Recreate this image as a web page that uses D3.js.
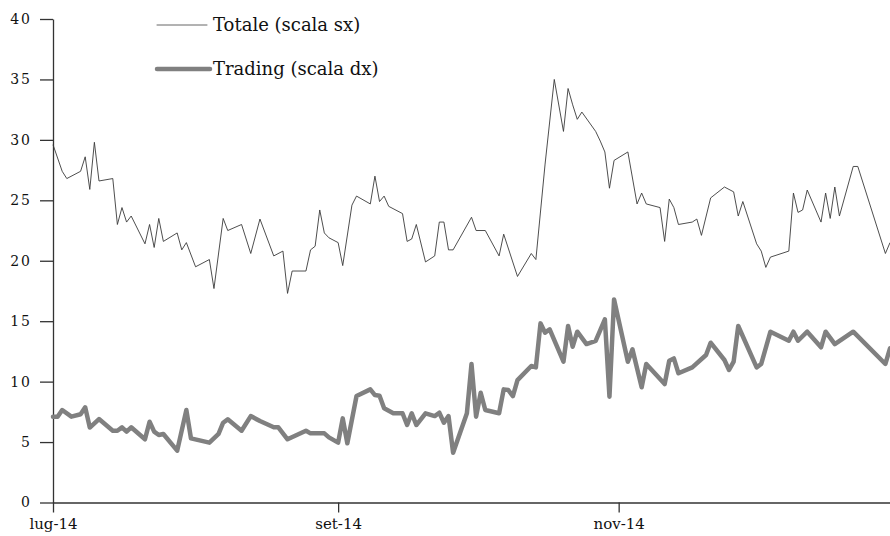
<!DOCTYPE html>
<html>
<head>
<meta charset="utf-8">
<script src="https://cdn.jsdelivr.net/npm/d3@7"></script>
<style>
  body { margin: 0; background: #fff; }
  svg { display: block; }
  text { font-family: "DejaVu Serif", serif; fill: #111; }
</style>
</head>
<body>
<svg id="drawing_region"></svg>
<script>
// Totale (scala sx)
const totaleDates = [
  "2014-07-01","2014-07-03","2014-07-04","2014-07-07","2014-07-08","2014-07-09","2014-07-10","2014-07-11",
  "2014-07-14","2014-07-15","2014-07-16","2014-07-17","2014-07-18","2014-07-21","2014-07-22","2014-07-23",
  "2014-07-24","2014-07-25","2014-07-28","2014-07-29","2014-07-30","2014-08-01","2014-08-04","2014-08-05",
  "2014-08-07","2014-08-08","2014-08-11","2014-08-13","2014-08-15","2014-08-18","2014-08-20","2014-08-21",
  "2014-08-22","2014-08-25","2014-08-26","2014-08-27","2014-08-28","2014-08-29","2014-08-30","2014-09-01",
  "2014-09-02","2014-09-04","2014-09-05","2014-09-08","2014-09-09","2014-09-10","2014-09-11","2014-09-12",
  "2014-09-15","2014-09-16","2014-09-17","2014-09-18","2014-09-20","2014-09-22","2014-09-23","2014-09-24",
  "2014-09-25","2014-09-26","2014-09-30","2014-10-01","2014-10-03","2014-10-06","2014-10-07","2014-10-10",
  "2014-10-13","2014-10-14","2014-10-16","2014-10-18","2014-10-20","2014-10-21","2014-10-22","2014-10-23",
  "2014-10-24","2014-10-27","2014-10-28","2014-10-29","2014-10-30","2014-10-31","2014-11-03","2014-11-05",
  "2014-11-06","2014-11-07","2014-11-10","2014-11-11","2014-11-12","2014-11-13","2014-11-14","2014-11-17",
  "2014-11-18","2014-11-19","2014-11-21","2014-11-24","2014-11-26","2014-11-27","2014-11-28","2014-12-01",
  "2014-12-02","2014-12-03","2014-12-04","2014-12-08","2014-12-09","2014-12-10","2014-12-11","2014-12-12",
  "2014-12-15","2014-12-16","2014-12-17","2014-12-18","2014-12-19","2014-12-22","2014-12-23","2014-12-29",
  "2014-12-30"
];
const totaleValues = [
  29.6, 27.4, 26.8, 27.4, 28.6, 25.9, 29.8, 26.6,
  26.8, 23.0, 24.4, 23.2, 23.7, 21.4, 23.0, 21.1,
  23.5, 21.6, 22.3, 20.9, 21.5, 19.5, 20.1, 17.7,
  23.5, 22.5, 23.0, 20.6, 23.45, 20.4, 20.8, 17.3,
  19.15, 19.15, 20.9, 21.2, 24.2, 22.3, 21.9, 21.5,
  19.6, 24.6, 25.35, 24.7, 27.0, 24.9, 25.35, 24.5,
  23.9, 21.6, 21.8, 23.0, 19.9, 20.4, 23.2, 23.2,
  20.9, 20.9, 23.6, 22.5, 22.5, 20.4, 22.2, 18.7,
  20.6, 20.1, 28.0, 35.0, 30.7, 34.25, 32.9, 31.7,
  32.3, 30.7, 29.9, 29.0, 26.0, 28.3, 29.0, 24.7,
  25.6, 24.7, 24.4, 21.6, 25.1, 24.4, 23.0, 23.2,
  23.45, 22.1, 25.2, 26.1, 25.7, 23.7, 24.9, 21.4,
  20.8, 19.45, 20.3, 20.8, 25.6, 24.0, 24.2, 25.85,
  23.2, 25.6, 23.5, 26.1, 23.7, 27.8, 27.8, 20.6,
  21.5
];

// Trading (scala dx)
const tradingDates = [
  "2014-07-01","2014-07-02","2014-07-03","2014-07-05","2014-07-07","2014-07-08","2014-07-09","2014-07-11",
  "2014-07-14","2014-07-15","2014-07-16","2014-07-17","2014-07-18","2014-07-21","2014-07-22","2014-07-23",
  "2014-07-24","2014-07-25","2014-07-28","2014-07-30","2014-07-31","2014-08-04","2014-08-06","2014-08-07",
  "2014-08-08","2014-08-11","2014-08-13","2014-08-15","2014-08-18","2014-08-19","2014-08-21","2014-08-25",
  "2014-08-26","2014-08-29","2014-08-30","2014-09-01","2014-09-02","2014-09-03","2014-09-05","2014-09-08",
  "2014-09-09","2014-09-10","2014-09-11","2014-09-13","2014-09-15","2014-09-16","2014-09-17","2014-09-18",
  "2014-09-20","2014-09-22","2014-09-23","2014-09-24","2014-09-25","2014-09-26","2014-09-29","2014-09-30",
  "2014-10-01","2014-10-02","2014-10-03","2014-10-06","2014-10-07","2014-10-08","2014-10-09","2014-10-10",
  "2014-10-13","2014-10-14","2014-10-15","2014-10-16","2014-10-17","2014-10-20","2014-10-21","2014-10-22",
  "2014-10-23","2014-10-25","2014-10-27","2014-10-29","2014-10-30","2014-10-31","2014-11-03","2014-11-04",
  "2014-11-06","2014-11-07","2014-11-11","2014-11-12","2014-11-13","2014-11-14","2014-11-17","2014-11-20",
  "2014-11-21","2014-11-24","2014-11-25","2014-11-26","2014-11-27","2014-12-01","2014-12-02","2014-12-04",
  "2014-12-08","2014-12-09","2014-12-10","2014-12-12","2014-12-15","2014-12-16","2014-12-18","2014-12-22",
  "2014-12-29","2014-12-30"
];
const tradingValues = [
  7.1, 7.1, 7.65, 7.1, 7.3, 7.87, 6.2, 6.9,
  5.94, 5.94, 6.22, 5.86, 6.22, 5.23, 6.68, 5.86,
  5.58, 5.67, 4.29, 7.65, 5.31, 4.95, 5.67, 6.6,
  6.88, 5.94, 7.15, 6.74, 6.22, 6.22, 5.23, 5.94,
  5.72, 5.72, 5.39, 4.95, 6.96, 4.9, 8.81, 9.36,
  8.89, 8.83, 7.79, 7.38, 7.38, 6.41, 7.38, 6.41,
  7.38, 7.15, 7.43, 6.6, 7.15, 4.12, 7.38, 11.46,
  7.1, 9.08, 7.65, 7.38, 9.36, 9.3, 8.81, 10.13,
  11.29, 11.18, 14.82, 14.05, 14.33, 11.65, 14.6, 12.89,
  14.13, 13.11, 13.38, 15.15, 8.75, 16.8, 11.65, 12.67,
  9.53, 11.46, 9.8, 11.73, 11.92, 10.69, 11.18, 12.2,
  13.22, 11.79, 10.96, 11.65, 14.6, 11.18, 11.46, 14.13,
  13.38, 14.13, 13.38, 14.13, 12.84, 14.13, 13.11, 14.13,
  11.46, 12.75
];

const yTicks = [0, 5, 10, 15, 20, 25, 30, 35, 40];
const xTickDates = ["2014-07-01", "2014-09-01", "2014-11-01"];
const xTickLabels = ["lug-14", "set-14", "nov-14"];
const xDomain = ["2014-07-01", "2014-12-30"];
const seriesNames = ["Totale (scala sx)", "Trading (scala dx)"];

const config = {
  width: 890,
  height: 536,
  margin: { top: 19, right: 0, bottom: 33.5, left: 53 },
};

const parse = d3.timeParse("%Y-%m-%d");

const svg = d3.select("#drawing_region")
  .attr("width", config.width)
  .attr("height", config.height);

const innerW = config.width - config.margin.left - config.margin.right;
const innerH = config.height - config.margin.top - config.margin.bottom;

const chart = svg.append("g")
  .attr("transform", `translate(${config.margin.left}, ${config.margin.top})`);

const xscale = d3.scaleTime().domain(xDomain.map(parse)).range([0, innerW]);
const yscale = d3.scaleLinear().domain([0, 40]).range([innerH, 0]);

// y axis
const yaxis = d3.axisLeft(yscale)
  .tickValues(yTicks)
  .tickSize(13)
  .tickSizeOuter(0)
  .tickPadding(8);
const yg = chart.append("g").call(yaxis);
yg.selectAll("path, line").attr("stroke", "#333").attr("stroke-width", 1.3);
yg.selectAll("text")
  .attr("font-family", "DejaVu Serif")
  .attr("font-size", "14px")
  .attr("letter-spacing", "2px")
  .attr("fill", "#000");

// x axis
const xaxis = d3.axisBottom(xscale)
  .tickValues(xTickDates.map(parse))
  .tickFormat((d, i) => xTickLabels[i])
  .tickSize(10)
  .tickSizeOuter(0)
  .tickPadding(6);
const xg = chart.append("g")
  .attr("transform", `translate(0, ${innerH})`)
  .call(xaxis);
xg.selectAll("path, line").attr("stroke", "#333").attr("stroke-width", 1.3);
xg.selectAll("text")
  .attr("font-family", "DejaVu Serif")
  .attr("font-size", "15px")
  .attr("fill", "#000");

// lines
const line = d3.line()
  .x((d) => xscale(d.date))
  .y((d) => yscale(d.value));

const totale = totaleDates.map((d, i) => ({ date: parse(d), value: totaleValues[i] }));
const trading = tradingDates.map((d, i) => ({ date: parse(d), value: tradingValues[i] }));

chart.append("path")
  .datum(trading)
  .attr("fill", "none")
  .attr("stroke", "#808080")
  .attr("stroke-width", 4.5)
  .attr("stroke-linejoin", "round")
  .attr("stroke-linecap", "round")
  .attr("d", line);

chart.append("path")
  .datum(totale)
  .attr("fill", "none")
  .attr("stroke", "#3a3a3a")
  .attr("stroke-width", 0.9)
  .attr("d", line);

// legend
const legend = svg.append("g");
const legendItems = [
  { name: seriesNames[0], stroke: "#666", width: 1, y: 25, x2: 207 },
  { name: seriesNames[1], stroke: "#808080", width: 4.5, y: 69, x2: 210 },
];
legendItems.forEach((d) => {
  legend.append("line")
    .attr("x1", 157).attr("x2", d.x2)
    .attr("y1", d.y).attr("y2", d.y)
    .attr("stroke", d.stroke)
    .attr("stroke-width", d.width)
    .attr("stroke-linecap", "round");
  legend.append("text")
    .attr("x", 213)
    .attr("y", d.y + 6)
    .attr("font-size", "18px")
    .attr("fill", "#000")
    .text(d.name);
});
</script>
</body>
</html>
